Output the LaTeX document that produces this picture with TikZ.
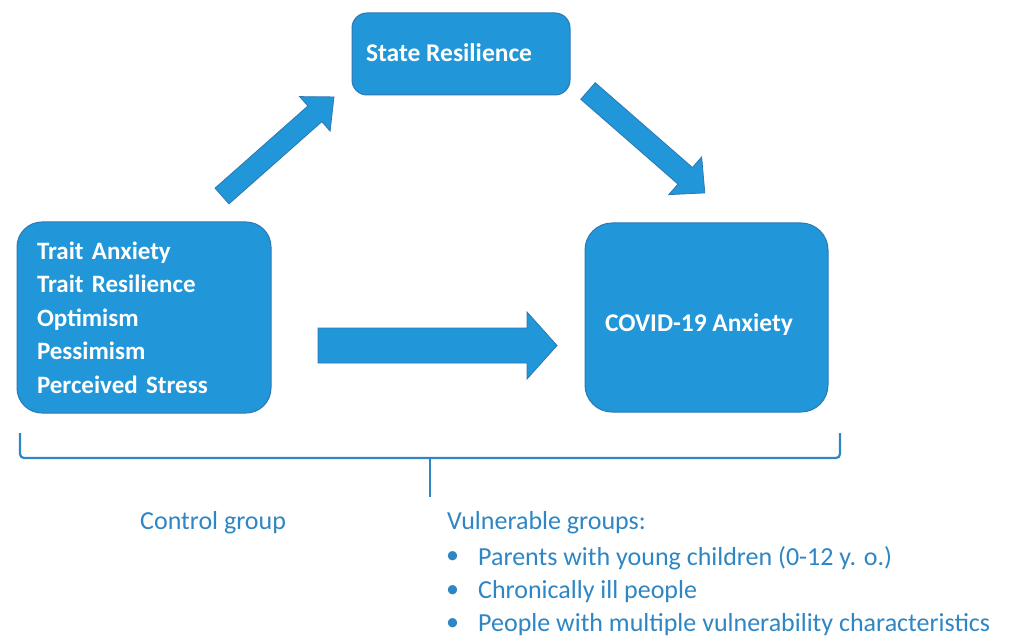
\documentclass[tikz,border=0pt]{standalone}
\usepackage{fontspec}
\setmainfont{Carlito}
\definecolor{boxblue}{RGB}{33,150,216}
\definecolor{edgeblue}{RGB}{45,120,180}
\definecolor{txtblue}{RGB}{46,134,196}
\begin{document}
\begin{tikzpicture}[x=1pt,y=-1pt,
  box/.style={draw=edgeblue, line width=1pt, fill=boxblue, text=white, font=\fontsize{25}{33.5}\selectfont\bfseries},
  boxtext/.style={text=white, inner sep=0pt, font=\fontsize{25.5}{30}\selectfont\bfseries},
  blockarrow/.style={draw=edgeblue, line width=0.8pt, fill=boxblue},
  bracketline/.style={draw=txtblue, line width=2.2pt, rounded corners=4pt},
  lab/.style={text=txtblue, font=\fontsize{26}{32}\selectfont, anchor=west, inner sep=0pt}]
\useasboundingbox (0,0) rectangle (1009,639);
\fill[white] (0,0) rectangle (1009,639);
% boxes
\node[box, rounded corners=25pt, minimum width=254pt, minimum height=191pt, text width=214pt, align=left, inner xsep=20pt] (trait) at (144,317.5) {Trait Anxiety\\Trait Resilience\\Optimism\\Pessimism\\Perceived Stress};
\node[box, rounded corners=27pt, minimum width=243pt, minimum height=189pt] (covid) at (706.5,317.5) {};
\node[boxtext] (covidtxt) at (699,325) {COVID-19 Anxiety};
\node[box, rounded corners=15pt, minimum width=218pt, minimum height=82pt] (state) at (461,54) {};
\node[boxtext] (statetxt) at (449,53) {State Resilience};
% block arrows
\coordinate (a1s) at (222,196); \coordinate (a1e) at (334,97);
\coordinate (a2s) at (588,91);  \coordinate (a2e) at (705,193);
\coordinate (a3s) at (318,345.5); \coordinate (a3e) at (557,345.5);
\begin{scope}[shift={(a1s)}, rotate=41.5]
  \draw[blockarrow] (0,-10.5) -- (124,-10.5) -- (124,-23) -- (149.5,0) -- (124,23) -- (124,10.5) -- (0,10.5) -- cycle;
\end{scope}
\begin{scope}[shift={(a2s)}, rotate=-41.1]
  \draw[blockarrow] (0,-11) -- (129,-11) -- (129,-25) -- (155,0) -- (129,25) -- (129,11) -- (0,11) -- cycle;
\end{scope}
\begin{scope}[shift={(a3s)}]
  \draw[blockarrow] (0,-17.5) -- (209,-17.5) -- (209,-33.5) -- (239,0) -- (209,33.5) -- (209,17.5) -- (0,17.5) -- cycle;
\end{scope}
% bracket
\coordinate (bl) at (20,433); \coordinate (br) at (840,433); \coordinate (bm) at (430,497);
\draw[bracketline] (bl) -- (20,458) -- (840,458) -- (br);
\draw[draw=txtblue, line width=2.2pt] (430,458) -- (bm);
% labels
\node[lab] (ctrl) at (140,523) {Control group};
\node[lab] (vul) at (447,523) {Vulnerable groups:};
\node[lab] (b1) at (446,558) {•};
\node[lab] (i1) at (478,558) {Parents with young children (0-12 y. o.)};
\node[lab] (b2) at (446,592) {•};
\node[lab] (i2) at (478,592) {Chronically ill people};
\node[lab] (b3) at (446,625) {•};
\node[lab] (i3) at (478,625) {People with multiple vulnerability characteristics};
\end{tikzpicture}
\end{document}
